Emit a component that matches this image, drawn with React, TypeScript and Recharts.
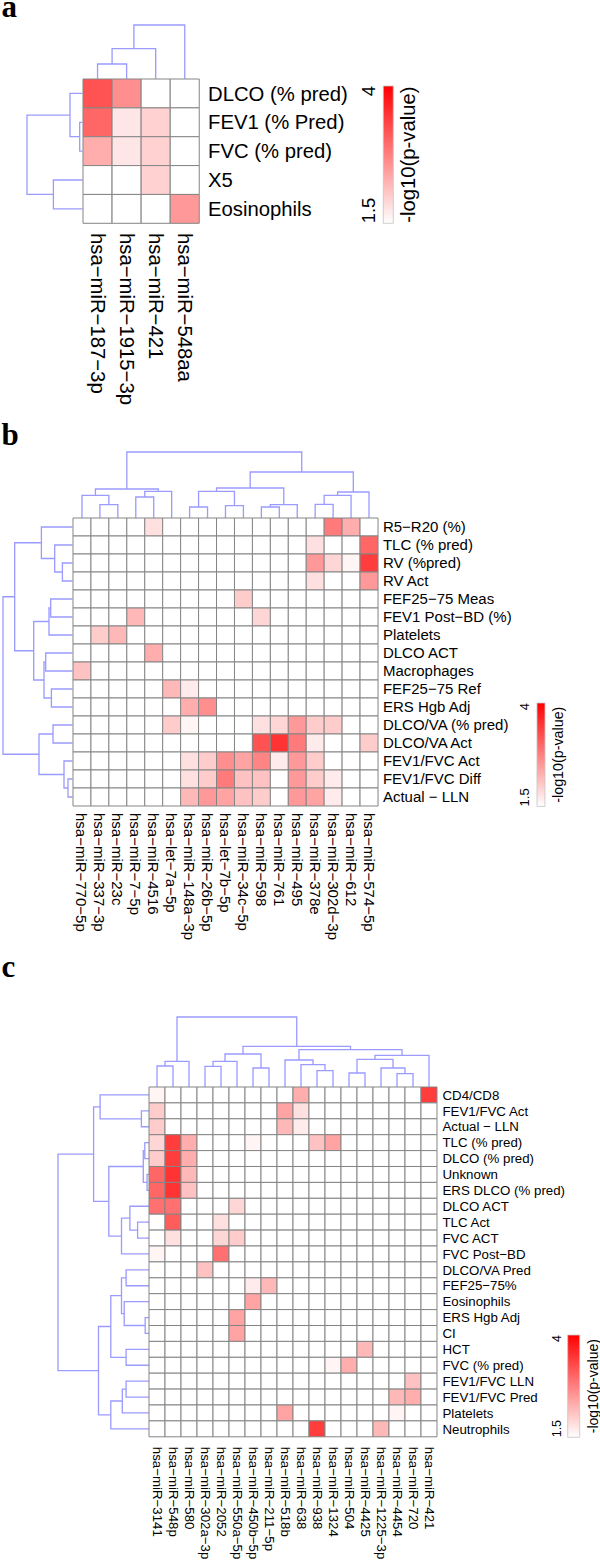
import React from 'react';
import { BarChart, Bar, Cell, XAxis, YAxis, ComposedChart, Line, Label } from 'recharts';

const FONT = '"Liberation Sans", Arial, Helvetica, sans-serif';
const SERIF = '"Liberation Serif", "Times New Roman", serif';
const GRID = '#858585';
const DENDRO = '#9a9aff';

// ---------- legend scale ----------
const scaleTicks = [1.5, 4];
const scaleTitle = '-log10(p-value)';

// ---------- panel a ----------
const rowsA = ['DLCO (% pred)', 'FEV1 (% Pred)', 'FVC (% pred)', 'X5', 'Eosinophils'];
const colsA = ['hsa−miR−187−3p', 'hsa−miR−1915−3p', 'hsa−miR−421', 'hsa−miR−548aa'];
const valuesA = [
  [3.2, 2.6, 0, 0],
  [3.0, 1.75, 1.95, 0],
  [2.3, 1.75, 1.95, 0],
  [0, 0, 1.95, 0],
  [0, 0, 0, 2.5],
];
// merges: [childA, childB, height]; negative = leaf (display order), positive = earlier merge
const colTreeA = [[-1, -2, 14.7], [1, -3, 30], [2, -4, 53.7]];
const rowTreeA = [[-2, -3, 2.7], [-1, 1, 12.4], [-4, -5, 29], [2, 3, 55.4]];

// ---------- panel b ----------
const rowsB = ['R5−R20 (%)', 'TLC (% pred)', 'RV (%pred)', 'RV Act', 'FEF25−75 Meas', 'FEV1 Post−BD (%)', 'Platelets', 'DLCO ACT', 'Macrophages', 'FEF25−75 Ref', 'ERS Hgb Adj', 'DLCO/VA (% pred)', 'DLCO/VA Act', 'FEV1/FVC Act', 'FEV1/FVC Diff', 'Actual − LLN'];
const colsB = ['hsa−miR−770−5p', 'hsa−miR−337−3p', 'hsa−miR−23c', 'hsa−miR−7−5p', 'hsa−miR−4516', 'hsa−let−7a−5p', 'hsa−miR−148a−3p', 'hsa−miR−26b−5p', 'hsa−let−7b−5p', 'hsa−miR−34c−5p', 'hsa−miR−598', 'hsa−miR−761', 'hsa−miR−495', 'hsa−miR−378e', 'hsa−miR−302d−3p', 'hsa−miR−612', 'hsa−miR−574−5p'];
const valuesB = [
  [0, 0, 0, 0, 1.8, 0, 0, 0, 0, 0, 0, 0, 0, 0, 2.8, 2.3, 0],
  [0, 0, 0, 0, 0, 0, 0, 0, 0, 0, 0, 0, 0, 1.8, 0, 0, 3.0],
  [0, 0, 0, 0, 0, 0, 0, 0, 0, 0, 0, 0, 0, 2.5, 1.9, 1.6, 3.4],
  [0, 0, 0, 0, 0, 0, 0, 0, 0, 0, 0, 0, 0, 1.8, 0, 0, 2.5],
  [0, 0, 0, 0, 0, 0, 0, 0, 0, 2.0, 0, 0, 0, 0, 0, 0, 0],
  [0, 0, 0, 2.2, 0, 0, 0, 0, 0, 0, 1.9, 0, 0, 0, 0, 0, 0],
  [0, 2.0, 2.2, 0, 0, 0, 0, 0, 0, 0, 0, 0, 0, 0, 0, 0, 0],
  [0, 0, 0, 0, 2.3, 0, 0, 0, 0, 0, 0, 0, 0, 0, 0, 0, 0],
  [2.1, 0, 0, 0, 0, 0, 0, 0, 0, 0, 0, 0, 0, 0, 0, 0, 0],
  [0, 0, 0, 0, 0, 2.2, 1.7, 0, 0, 0, 0, 0, 0, 0, 0, 0, 0],
  [0, 0, 0, 0, 0, 0, 2.3, 2.6, 0, 0, 0, 0, 0, 0, 0, 0, 0],
  [0, 0, 0, 0, 0, 2.0, 1.6, 0, 0, 0, 1.8, 1.9, 2.5, 2.0, 2.0, 0, 0],
  [0, 0, 0, 0, 0, 0, 0, 0, 0, 0, 3.2, 3.5, 2.8, 1.7, 0, 0, 2.0],
  [0, 0, 0, 0, 0, 0, 1.8, 2.0, 2.6, 2.4, 2.7, 1.7, 2.5, 2.0, 0, 0, 0],
  [0, 0, 0, 0, 0, 0, 1.8, 2.0, 2.8, 2.1, 2.1, 0, 2.5, 2.0, 1.7, 0, 0],
  [0, 0, 0, 0, 0, 0, 2.2, 2.5, 2.4, 2.1, 2.0, 0, 2.5, 2.4, 1.7, 0, 0],
];
const colTreeB = [
  [-2, -3, 13.3], [-1, 1, 22.6], [-4, -5, 21], [3, -6, 26.6], [2, 4, 29],
  [-7, -8, 11], [-9, -10, 12.3], [6, 7, 26.6], [-11, -12, 11], [9, -13, 13.3],
  [8, 10, 30], [-14, -15, 13.6], [12, -16, 22.6], [13, -17, 26], [11, 14, 46], [5, 15, 66],
];
const rowTreeB = [
  [-3, -4, 10], [-2, 1, 17.7], [-1, 2, 31], [-5, -6, 21.7], [4, -7, 23.4],
  [-8, -9, 26.7], [-10, -11, 21], [6, 7, 28.4], [5, 8, 38.7], [3, 9, 57.7],
  [-12, -13, 19.4], [-15, -16, 4.4], [-14, 12, 8.4], [11, 13, 33.4], [10, 14, 69.4],
];

// ---------- panel c ----------
const rowsC = ['CD4/CD8', 'FEV1/FVC Act', 'Actual − LLN', 'TLC (% pred)', 'DLCO (% pred)', 'Unknown', 'ERS DLCO (% pred)', 'DLCO ACT', 'TLC Act', 'FVC ACT', 'FVC Post−BD', 'DLCO/VA Pred', 'FEF25−75%', 'Eosinophils', 'ERS Hgb Adj', 'CI', 'HCT', 'FVC (% pred)', 'FEV1/FVC LLN', 'FEV1/FVC Pred', 'Platelets', 'Neutrophils'];
const colsC = ['hsa−miR−3141', 'hsa−miR−548p', 'hsa−miR−580', 'hsa−miR−302a−3p', 'hsa−miR−2052', 'hsa−miR−550a−5p', 'hsa−miR−450b−5p', 'hsa−miR−211−5p', 'hsa−miR−518b', 'hsa−miR−638', 'hsa−miR−938', 'hsa−miR−1324', 'hsa−miR−504', 'hsa−miR−4425', 'hsa−miR−1225−3p', 'hsa−miR−4454', 'hsa−miR−720', 'hsa−miR−421'];
const valuesC = [
  [1.6, 0, 0, 0, 0, 0, 0, 0, 0, 2.3, 0, 0, 0, 0, 0, 0, 0, 3.4],
  [2.0, 0, 0, 0, 0, 0, 0, 0, 2.4, 1.8, 0, 0, 0, 0, 0, 0, 0, 0],
  [2.0, 0, 0, 0, 0, 0, 0, 0, 2.2, 1.7, 0, 0, 0, 0, 0, 0, 0, 0],
  [1.9, 3.4, 2.3, 0, 0, 0, 1.6, 0, 0, 0, 2.1, 2.4, 0, 0, 0, 0, 0, 0],
  [2.0, 3.4, 2.3, 0, 0, 0, 0, 0, 0, 0, 0, 0, 0, 0, 0, 0, 0, 0],
  [3.0, 3.5, 2.2, 0, 0, 0, 0, 0, 0, 0, 0, 0, 0, 0, 0, 0, 0, 0],
  [3.0, 3.5, 2.1, 0, 0, 0, 0, 0, 0, 0, 0, 0, 0, 0, 0, 0, 0, 0],
  [2.9, 2.9, 0, 0, 0, 1.9, 0, 0, 0, 0, 0, 0, 0, 0, 0, 0, 0, 0],
  [0, 3.1, 0, 0, 1.8, 0, 0, 0, 0, 0, 0, 0, 0, 0, 0, 0, 0, 0],
  [0, 1.8, 0, 0, 1.9, 2.0, 0, 0, 0, 0, 0, 0, 0, 0, 0, 0, 0, 0],
  [1.6, 0, 0, 0, 2.9, 0, 0, 0, 0, 0, 0, 0, 0, 0, 0, 0, 0, 0],
  [0, 0, 0, 2.1, 0, 0, 0, 0, 0, 0, 0, 0, 0, 0, 0, 0, 0, 0],
  [0, 0, 0, 0, 0, 0, 1.7, 2.2, 0, 0, 0, 0, 0, 0, 0, 0, 0, 0],
  [0, 0, 0, 0, 0, 0, 2.4, 0, 0, 0, 0, 0, 0, 0, 0, 0, 0, 0],
  [0, 0, 0, 0, 0, 2.4, 0, 0, 0, 0, 0, 0, 0, 0, 0, 0, 0, 0],
  [0, 0, 0, 0, 0, 2.4, 0, 0, 0, 0, 0, 0, 0, 0, 0, 0, 0, 0],
  [0, 0, 0, 0, 0, 0, 0, 0, 0, 0, 0, 0, 0, 2.2, 0, 0, 0, 0],
  [0, 0, 0, 0, 0, 0, 0, 0, 0, 0, 0, 1.6, 2.3, 0, 0, 0, 0, 0],
  [0, 0, 0, 0, 0, 0, 0, 0, 0, 0, 0, 0, 0, 0, 0, 0, 2.1, 0],
  [0, 0, 0, 0, 0, 0, 0, 0, 0, 0, 0, 0, 0, 0, 0, 2.2, 2.3, 0],
  [0, 0, 0, 0, 0, 0, 0, 0, 2.4, 0, 0, 0, 0, 0, 0, 1.6, 0, 0],
  [0, 0, 0, 0, 0, 0, 0, 0, 0, 0, 3.4, 0, 0, 0, 2.2, 0, 0, 0],
];
const colTreeC = [
  [-1, -2, 21], [1, -3, 25.6], [-4, -5, 20.6], [3, -6, 25.6], [-7, -8, 19], [4, 5, 33],
  [-11, -12, 16.3], [-10, 7, 22.3], [-9, 8, 27], [-13, -14, 14], [-16, -17, 13.3],
  [-15, 11, 19], [10, 12, 27.6], [13, -18, 31.6], [9, 14, 37.3], [6, 15, 40.6], [2, 16, 70],
];
const rowTreeC = [
  [-2, -3, 7.7], [-1, 1, 49], [-4, -5, 4.3], [-6, -7, 2], [3, 4, 5.8],
  [-9, -10, 11.5], [-8, 6, 19.2], [7, -11, 27.6], [5, 8, 40.3], [2, 9, 55.5],
  [-15, -16, 3.9], [-14, 11, 24.9], [-12, -13, 23], [13, 12, 27.6], [-17, -18, 23],
  [14, 15, 38.3], [-19, -20, 23], [17, -21, 26.8], [18, -22, 38.3], [16, 19, 50.6], [10, 20, 91.1],
];

// ---------- helpers ----------
function cellColor(v: number) {
  const t = Math.max(0, Math.min(1, (v - scaleTicks[0]) / (scaleTicks[1] - scaleTicks[0])));
  const g = Math.round(255 * (1 - t));
  return `rgb(255,${g},${g})`;
}

function dendroSegments(merges: number[][]) {
  const pos: number[] = [];
  const hts: number[] = [];
  const get = (id: number) => (id < 0 ? { p: -id - 0.5, h: 0 } : { p: pos[id - 1], h: hts[id - 1] });
  return merges.map(([a, b, h], k) => {
    const A = get(a);
    const B = get(b);
    pos[k] = (A.p + B.p) / 2;
    hts[k] = h;
    return { A, B, h };
  });
}

function TopDendro({ merges, n, gridLeft, gridTop, gridW }: any) {
  const segs = dendroSegments(merges);
  const hMax = Math.max(...merges.map((m: number[]) => m[2]));
  return (
    <div style={{ position: 'absolute', left: gridLeft - 2, top: gridTop - hMax - 2 }}>
      <ComposedChart width={gridW + 4} height={hMax + 4} margin={{ top: 2, right: 2, bottom: 2, left: 2 }}>
        <XAxis type="number" dataKey="px" domain={[0, n]} hide />
        <YAxis type="number" domain={[0, hMax]} hide />
        {segs.map((s, i) => (
          <Line
            key={i}
            data={[
              { px: s.A.p, py: s.A.h },
              { px: s.A.p, py: s.h },
              { px: s.B.p, py: s.h },
              { px: s.B.p, py: s.B.h },
            ]}
            dataKey="py"
            stroke={DENDRO}
            strokeWidth={1.3}
            dot={false}
            activeDot={false}
            isAnimationActive={false}
          />
        ))}
      </ComposedChart>
    </div>
  );
}

function LeftDendro({ merges, n, gridLeft, gridTop, gridH }: any) {
  const segs = dendroSegments(merges);
  const hMax = Math.max(...merges.map((m: number[]) => m[2]));
  return (
    <div style={{ position: 'absolute', left: gridLeft - hMax - 2, top: gridTop - 2 }}>
      <ComposedChart width={hMax + 4} height={gridH + 4} margin={{ top: 2, right: 2, bottom: 2, left: 2 }}>
        <XAxis type="number" dataKey="px" domain={[0, hMax]} reversed hide />
        <YAxis type="number" domain={[0, n]} reversed hide />
        {segs.map((s, i) => (
          <Line
            key={i}
            data={[
              { px: s.A.h, py: s.A.p },
              { px: s.h, py: s.A.p },
              { px: s.h, py: s.B.p },
              { px: s.B.h, py: s.B.p },
            ]}
            dataKey="py"
            stroke={DENDRO}
            strokeWidth={1.3}
            dot={false}
            activeDot={false}
            isAnimationActive={false}
          />
        ))}
      </ComposedChart>
    </div>
  );
}

function ColTick(props: any) {
  const { x, y, payload, fontSize } = props;
  return (
    <text
      x={x}
      y={y}
      transform={`rotate(90, ${x}, ${y})`}
      textAnchor="start"
      dominantBaseline="central"
      fontSize={fontSize}
      fontFamily={FONT}
      fill="#000"
    >
      {payload.value}
    </text>
  );
}

function Heatmap({ rows, cols, values, left, top, cellW, cellH, rowFont, colFont, rowGap, colGap, rowAxisW, colAxisH }: any) {
  const gridW = cols.length * cellW;
  const gridH = rows.length * cellH;
  const data = cols.map((c: string) => {
    const o: any = { name: c };
    rows.forEach((_: string, i: number) => {
      o['r' + i] = 1;
    });
    return o;
  });
  const ticks = rows.map((_: string, i: number) => i + 0.5);
  return (
    <div style={{ position: 'absolute', left: left - 2, top: top - 2 }}>
      <BarChart
        width={gridW + 2 + rowAxisW}
        height={gridH + 2 + colAxisH}
        data={data}
        margin={{ top: 2, left: 2, right: 0, bottom: 0 }}
        barCategoryGap={0}
        barGap={0}
      >
        <XAxis
          dataKey="name"
          type="category"
          interval={0}
          height={colAxisH}
          tickSize={0}
          tickMargin={colGap}
          axisLine={false}
          tickLine={false}
          tick={(p: any) => <ColTick {...p} fontSize={colFont} />}
        />
        <YAxis
          orientation="right"
          type="number"
          domain={[0, rows.length]}
          reversed
          ticks={ticks}
          interval={0}
          width={rowAxisW}
          tickSize={0}
          tickMargin={rowGap}
          axisLine={false}
          tickLine={false}
          tickFormatter={(v: number) => rows[Math.floor(v)]}
          tick={{ fontSize: rowFont, fill: '#000', fontFamily: FONT }}
        />
        {rows.map((r: string, i: number) => (
          <Bar key={r} dataKey={'r' + i} stackId="h" isAnimationActive={false} stroke={GRID} strokeWidth={1}>
            {cols.map((c: string, j: number) => (
              <Cell key={c} fill={cellColor(values[i][j])} />
            ))}
          </Bar>
        ))}
      </BarChart>
    </div>
  );
}

function BarTick(props: any) {
  const { x, y, payload, fontSize } = props;
  const isTop = payload.value >= scaleTicks[1];
  return (
    <text
      x={x}
      y={y}
      transform={`rotate(-90, ${x}, ${y})`}
      textAnchor={isTop ? 'end' : 'start'}
      dominantBaseline="central"
      fontSize={fontSize}
      fontFamily={FONT}
      fill="#000"
    >
      {payload.value}
    </text>
  );
}

function ColorBar({ id, barLeft, barTop, barW, barH, tickX, labelX, tickFont, labelFont }: any) {
  const leftW = barLeft - tickX + 14;
  const rightW = 2 * (labelX - (barLeft + barW));
  const pad = 14;
  const barData = [{ k: 'scale', v: [scaleTicks[0], scaleTicks[1]] }];
  return (
    <div style={{ position: 'absolute', left: barLeft - leftW, top: barTop - pad }}>
      <BarChart
        width={leftW + barW + rightW}
        height={barH + 2 * pad}
        data={barData}
        margin={{ top: pad, bottom: pad, left: 0, right: 0 }}
        barCategoryGap={0}
      >
        <defs>
          <linearGradient id={id} x1="0" y1="1" x2="0" y2="0">
            <stop offset="0" stopColor="#ffffff" />
            <stop offset="1" stopColor="#ff0000" />
          </linearGradient>
        </defs>
        <XAxis dataKey="k" type="category" hide />
        <YAxis
          yAxisId="t"
          orientation="left"
          type="number"
          domain={[scaleTicks[0], scaleTicks[1]]}
          ticks={scaleTicks}
          interval={0}
          width={leftW}
          tickSize={0}
          tickMargin={barLeft - tickX}
          axisLine={false}
          tickLine={false}
          tick={(p: any) => <BarTick {...p} fontSize={tickFont} />}
        />
        <YAxis
          yAxisId="l"
          orientation="right"
          type="number"
          domain={[scaleTicks[0], scaleTicks[1]]}
          width={rightW}
          tick={false}
          axisLine={false}
          tickLine={false}
        >
          <Label value={scaleTitle} angle={-90} position="center" fontSize={labelFont} fill="#000" fontFamily={FONT} />
        </YAxis>
        <Bar yAxisId="t" dataKey="v" fill={`url(#${id})`} stroke="#c4c4c4" strokeWidth={0.8} isAnimationActive={false} />
      </BarChart>
    </div>
  );
}

// ---------- app ----------
export default function App() {
  const A = { left: 82.7, top: 79, cellW: 29.08, cellH: 28.86 };
  const B = { left: 72.7, top: 518.3, cellW: 17.94, cellH: 18 };
  const C = { left: 149.3, top: 1087.3, cellW: 16, cellH: 15.9 };
  return (
    <div style={{ position: 'absolute', left: 0, top: 0, width: 600, height: 1562, overflow: 'hidden', background: '#fff' }}>
      <svg width={600} height={1562} style={{ position: 'absolute', left: 0, top: 0 }}>
        <text x={1.5} y={17} fontFamily={SERIF} fontWeight="bold" fontSize={31} fill="#000">a</text>
        <text x={1.5} y={445} fontFamily={SERIF} fontWeight="bold" fontSize={31} fill="#000">b</text>
        <text x={1.5} y={976.7} fontFamily={SERIF} fontWeight="bold" fontSize={31} fill="#000">c</text>
      </svg>

      {/* panel a */}
      <TopDendro merges={colTreeA} n={colsA.length} gridLeft={A.left} gridTop={A.top} gridW={colsA.length * A.cellW} />
      <LeftDendro merges={rowTreeA} n={rowsA.length} gridLeft={A.left} gridTop={A.top} gridH={rowsA.length * A.cellH} />
      <Heatmap rows={rowsA} cols={colsA} values={valuesA} left={A.left} top={A.top} cellW={A.cellW} cellH={A.cellH}
        rowFont={20.3} colFont={20.3} rowGap={8.7} colGap={9.7} rowAxisW={165} colAxisH={195} />
      <ColorBar id="gradA" barLeft={383.3} barTop={86} barW={10} barH={137.3} tickX={369} labelX={408} tickFont={18.5} labelFont={20.3} />

      {/* panel b */}
      <TopDendro merges={colTreeB} n={colsB.length} gridLeft={B.left} gridTop={B.top} gridW={colsB.length * B.cellW} />
      <LeftDendro merges={rowTreeB} n={rowsB.length} gridLeft={B.left} gridTop={B.top} gridH={rowsB.length * B.cellH} />
      <Heatmap rows={rowsB} cols={colsB} values={valuesB} left={B.left} top={B.top} cellW={B.cellW} cellH={B.cellH}
        rowFont={15} colFont={15} rowGap={5} colGap={7} rowAxisW={145} colAxisH={145} />
      <ColorBar id="gradB" barLeft={537} barTop={703.3} barW={8.3} barH={103.4} tickX={525} labelX={558} tickFont={13} labelFont={14.3} />

      {/* panel c */}
      <TopDendro merges={colTreeC} n={colsC.length} gridLeft={C.left} gridTop={C.top} gridW={colsC.length * C.cellW} />
      <LeftDendro merges={rowTreeC} n={rowsC.length} gridLeft={C.left} gridTop={C.top} gridH={rowsC.length * C.cellH} />
      <Heatmap rows={rowsC} cols={colsC} values={valuesC} left={C.left} top={C.top} cellW={C.cellW} cellH={C.cellH}
        rowFont={13.3} colFont={13.3} rowGap={5.5} colGap={10} rowAxisW={150} colAxisH={130} />
      <ColorBar id="gradC" barLeft={567.5} barTop={1335} barW={12.3} barH={102.3} tickX={556.8} labelX={592.4} tickFont={12.5} labelFont={14} />
    </div>
  );
}
